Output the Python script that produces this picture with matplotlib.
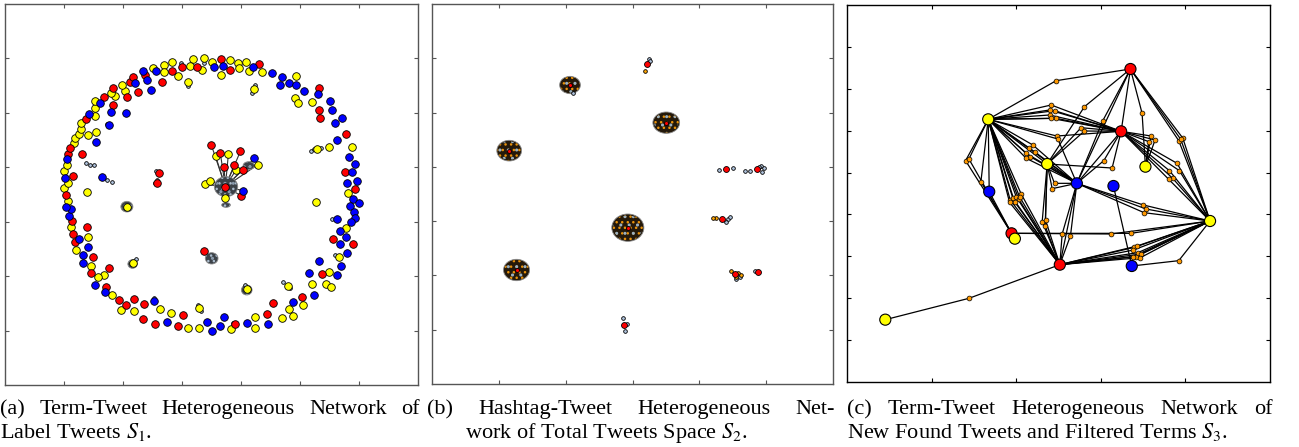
import numpy as np
import matplotlib
matplotlib.use("Agg")
import matplotlib.pyplot as plt
from matplotlib.patches import Ellipse

plt.rcParams["mathtext.fontset"] = "stix"
plt.rcParams["hatch.linewidth"] = 1.0

# ---------------- panel (a): term-tweet network of label tweets ----------------
# layout coordinates (graph layout units, y grows downward)
a_yellow = [(613,174),(580,177),(519,185),(494,194),(462,205),(493,216),(572,197),(608,211),
            (638,185),(692,180),(716,188),(718,205),(741,186),(748,213),(787,215),(891,229),
            (937,306),(1056,442),(1046,578),(1040,683),(1018,770),(987,817),(979,853),(995,860),
            (937,852),(912,916),(868,928),(882,948),(848,955),(767,950),(767,985),(695,986),
            (600,983),(567,984),(515,939),(483,926),(405,934),(366,930),(339,886),(316,824),
            (298,832),(276,797),(231,749),(266,710),(217,682),(207,602),(194,565),(208,550),
            (194,512),(205,494),(224,430),(227,413),(239,401),(245,386),(247,370),(289,347),
            (287,324),(288,303),(268,406),(290,397),(348,287),(336,280),(377,274),(367,255),
            (536,227),(567,246),(666,225),(888,293),(896,310),(763,267),(953,447),(987,440),
            (950,606),(866,857),(263,577),(600,925),(742,868),(400,790),(383,620),
            (649,469),(687,463),(775,494),(710,510),(617,553),(633,542),(678,595)]
a_red = [(518,212),(548,201),(594,202),(665,177),(692,210),(780,193),(958,263),(958,330),
         (960,355),(1038,403),(1036,515),(1066,567),(999,718),(1060,733),(968,822),(909,890),
         (822,909),(803,943),(706,972),(537,979),(550,944),(468,972),(432,957),(433,913),
         (403,896),(381,915),(358,899),(320,861),(329,804),(277,818),(282,771),(229,726),
         (223,701),(265,682),(219,663),(201,584),(222,528),(208,461),(214,445),(250,462),
         (261,358),(340,314),(315,292),(340,264),(384,290),(392,245),(400,231),(415,277),
         (438,225),(489,247),(480,520),(474,550),(613,752),
         (636,435),(663,460),(723,454),(674,500),(705,494),(730,510),(678,560),(725,587)]
a_blue = [(431,213),(470,214),(645,200),(671,197),(762,200),(819,220),(848,231),(843,254),
          (868,250),(890,256),(914,274),(955,281),(990,303),(998,331),(1028,354),(1005,369),
          (1013,419),(1048,470),(1067,493),(1056,516),(1072,544),(1043,550),(1060,596),(1077,609),
          (1050,618),(1062,635),(1067,655),(1053,665),(1020,694),(1038,711),(1020,733),(1043,760),
          (1023,797),(958,782),(929,819),(1011,825),(943,886),(880,905),(807,972),(743,970),
          (674,950),(661,977),(638,993),(622,967),(503,966),(464,903),(317,876),(289,855),
          (251,788),(251,766),(266,741),(241,716),(209,649),(215,628),(200,622),(199,533),
          (203,478),(270,342),(304,310),(290,427),(334,337),(380,338),(408,250),(444,240),
          (454,269),(330,376),(308,532),(1011,658),(765,475),(732,572)]
a_gray = [(545,188),(613,188),(567,258),(767,255),(758,279),(894,302),(325,372),(262,490),
          (274,494),(286,496),(325,540),(337,545),(470,512),(466,548),(474,540),(935,452),
          (945,447),(963,443),(998,657),(852,845),(872,865),(1005,765),(465,893),(596,915),
          (605,932),(737,855),(410,778),(700,968)]
# dense sub-clusters: centre x, centre y, width, height
a_blobs = [(680,560,70,60),(748,497,34,24),(680,615,26,14),(383,620,36,32),
           (400,792,28,26),(637,775,38,34),(742,870,32,30)]
a_hub = (678,560)
a_hub_leaves = [(636,435),(663,460),(723,454),(674,500),(705,494),(730,510),(725,587),
                (649,469),(687,463),(775,494),(710,510),(617,553),(633,542),(678,595),
                (765,475),(732,572)]

# ---------------- panel (b): hashtag-tweet network ----------------
b_blobs = [(595,683,96,82),(710,368,80,64),(240,452,74,62),(262,810,78,64),(422,255,62,52)]
b_red = [(652,192),(888,507),(982,508),(878,657),(915,822),(984,816),(584,975)]
b_gray = [(657,176),(660,182),(868,510),(910,503),(946,513),(960,512),(995,498),(1002,505),
          (998,515),(988,500),(895,657),(890,665),(900,650),(975,812),(580,955),(588,992),
          (592,972),(432,278),(920,838),(930,832)]
b_orange = [(645,214),(858,653),(850,655),(903,812),(925,818),(935,825),(918,830)]

# ---------------- panel (c): new found tweets and filtered terms ----------------
c_term_x = [873,446,845,918,623,712,822,449,1112,516,526,661,877,137]
c_term_y = [207,358,394,500,492,550,558,575,663,700,716,794,798,959]
c_term_col = ["red","yellow","red","yellow","yellow","blue","blue","blue",
              "yellow","red","yellow","red","blue","yellow"]
# tweets (orange) and the two terms they link
c_tweet_x = [650,735,790,635,630,645,630,650,635,725,735,652,655,908,1018,1030,1024,
             935,947,928,1013,990,1020,1000,988,580,568,585,560,572,560,378,388,424,
             512,520,530,545,538,525,510,540,645,638,793,818,912,920,914,608,618,617,
             668,693,814,875,885,893,882,895,905,890,903,880,1018,388]
c_tweet_y = [242,320,362,315,330,332,345,355,355,383,393,408,417,340,422,414,418,
             408,420,425,490,512,512,535,538,435,445,455,460,470,475,482,477,545,
             600,595,590,582,598,605,607,590,550,566,482,504,615,627,638,665,660,678,
             702,707,702,700,742,738,750,758,762,770,773,770,782,895]
c_tweet_links = [(1,0),(0,4),(0,5),(1,2),(1,2),(1,2),(1,2),(1,2),(1,2),(4,2),(4,2),(1,2),(1,5),
                 (0,3),(0,8),(0,8),(0,8),(2,3),(2,3),(2,3),(2,8),(2,8),(2,8),(2,8),(2,8),
                 (1,5),(1,5),(1,5),(1,5),(1,5),(1,5),(1,9),(1,9),(1,9),
                 (1,11),(1,11),(1,11),(1,11),(1,11),(1,11),(1,11),(1,11),(4,5),(4,5),
                 (2,5),(4,2),(5,8),(5,8),(5,8),(4,11),(4,11),(4,11),(5,11),(5,11),(9,8),(9,8),
                 (11,8),(11,8),(11,8),(11,8),(11,8),(11,8),(11,8),(11,8),(12,8),(13,11)]
c_term_links = [(0,2),(0,5),(4,5),(1,7),(7,9),(6,12),(5,11),(1,4),(2,5)]

# captions: (first line, second line, left x, right x of the justified first line)
captions = [("(a) Term-Tweet Heterogeneous Network of", "Label Tweets $S_1$.", 0, 420),
            ("(b) Hashtag-Tweet Heterogeneous Net-", "work of Total Tweets Space $S_2$.", 427, 835),
            ("(c) Term-Tweet Heterogeneous Network of",
             "New Found Tweets and Filtered Terms $S_3$.", 847, 1273)]
second_line_x = [0, 465, 847]

W, H = 1299, 447
fig = plt.figure(figsize=(W/100, H/100), dpi=100)


def frame(ax, xlim, ylim, nx, ny, col):
    ax.set_xlim(xlim)
    ax.set_ylim(ylim)
    ax.set_xticks(np.linspace(xlim[0], xlim[1], nx + 1)[1:-1])
    ax.set_yticks(np.linspace(ylim[1], ylim[0], ny + 1)[1:-1])
    ax.tick_params(direction="in", length=3, width=0.8, top=True, right=True,
                   labelbottom=False, labelleft=False, color=col)
    for s in ax.spines.values():
        s.set_color(col)
        s.set_linewidth(1.0)


def blob(ax, x, y, w, h, dark, dots, dots2):
    ax.add_patch(Ellipse((x, y), w, h, facecolor=dark, edgecolor="#8a8a8a", lw=0.6, zorder=2))
    ax.add_patch(Ellipse((x, y), w * 0.94, h * 0.94, facecolor="none", edgecolor=dots,
                         hatch="...", lw=0, zorder=2))
    ax.add_patch(Ellipse((x, y), w * 0.9, h * 0.9, facecolor="none", edgecolor=dots2,
                         hatch="..", lw=0, zorder=2))


def pts(ax, p, col, s, z=4):
    p = np.array(p)
    ax.scatter(p[:, 0], p[:, 1], s=s, c=col, edgecolors="black", linewidths=0.6, zorder=z)


# (a)
ax1 = fig.add_axes([5/W, 62/H, 413/W, 381/H])
frame(ax1, (18, 1255), (1155, 12), 7, 7, "#555555")
for lx, ly in a_hub_leaves:
    ax1.plot([a_hub[0], lx], [a_hub[1], ly], color="#333333", lw=0.8, zorder=1)
for bx, by, bw, bh in a_blobs:
    blob(ax1, bx, by, bw, bh, "#3c4248", "#aabbcc", "#8899aa")
pts(ax1, a_gray, "#b0c4de", 7, 3)
pts(ax1, a_yellow, "yellow", 30)
pts(ax1, a_red, "red", 30)
pts(ax1, a_blue, "blue", 30)

# (b)
ax2 = fig.add_axes([432/W, 63/H, 401/W, 380/H])
frame(ax2, (9, 1209), (1152, 12), 6, 7, "#555555")
for bx, by, bw, bh in b_blobs:
    blob(ax2, bx, by, bw, bh, "#24190a", "#e8920c", "#9ab0c0")
pts(ax2, np.array(b_blobs)[:, :2], "red", 8, 5)
pts(ax2, b_gray, "#b0c4de", 7, 3)
pts(ax2, b_orange, "orange", 7, 3)
pts(ax2, b_red, "red", 18)

# (c)
ax3 = fig.add_axes([847/W, 65/H, 423/W, 377/H])
frame(ax3, (22, 1292), (1146, 15), 5, 9, "black")
for a, b in c_term_links:
    ax3.plot([c_term_x[a], c_term_x[b]], [c_term_y[a], c_term_y[b]], color="black", lw=0.9, zorder=1)
for tx, ty, (a, b) in zip(c_tweet_x, c_tweet_y, c_tweet_links):
    ax3.plot([c_term_x[a], tx, c_term_x[b]], [c_term_y[a], ty, c_term_y[b]],
             color="black", lw=0.9, zorder=1)
ax3.scatter(c_tweet_x, c_tweet_y, s=12, c="#ff9900", edgecolors="black", linewidths=0.5, zorder=3)
ax3.scatter(c_term_x, c_term_y, s=64, c=c_term_col, edgecolors="black", linewidths=0.8, zorder=4)

# captions, first line justified between the panel edges
font = dict(fontsize=16, va="baseline", ha="left", family=["Liberation Serif", "DejaVu Serif"])
rend = fig.canvas.get_renderer()
for (line1, line2, x0, x1), x2 in zip(captions, second_line_x):
    words = line1.split()
    items = [fig.text(0, 0, w, **font) for w in words]
    widths = [t.get_window_extent(rend).width for t in items]
    gap = (x1 - x0 - sum(widths)) / (len(words) - 1)
    x = x0
    for t, wd in zip(items, widths):
        t.set_position((x / W, 1 - 414 / H))
        x += wd + gap
    fig.text(x2 / W, 1 - 438 / H, line2, **font)

fig.savefig("out.png", dpi=100)
